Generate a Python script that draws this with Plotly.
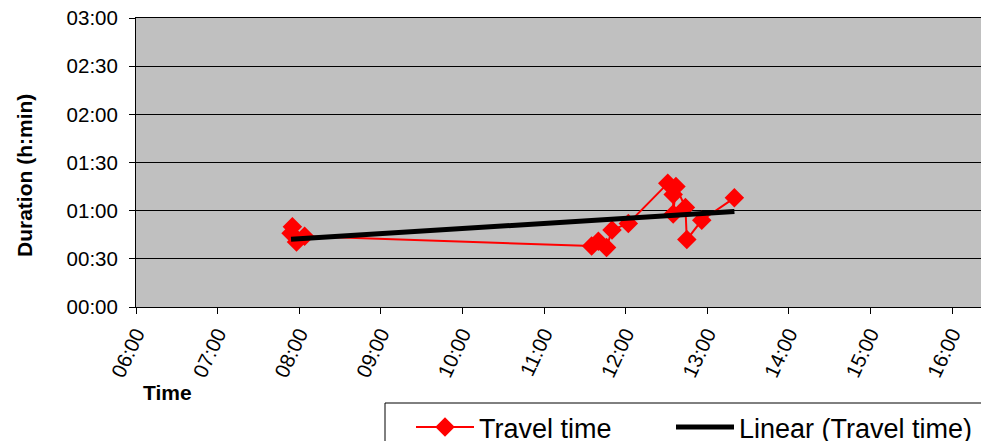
import numpy as np
import plotly.graph_objects as go

# departure times (HH:MM) and travel durations (minutes)
times = ["07:54", "07:55", "07:58", "08:04", "11:35", "11:40", "11:46", "11:50", "12:02",
         "12:31", "12:35", "12:35", "12:37", "12:44", "12:45", "12:56", "13:20"]
durations = [46, 50, 40.5, 44, 38, 41, 37, 48, 52, 77, 70, 58, 75, 62, 42, 54, 68]

x_ticks = ["06:00", "07:00", "08:00", "09:00", "10:00", "11:00", "12:00", "13:00", "14:00", "15:00", "16:00"]
y_ticks = ["00:00", "00:30", "01:00", "01:30", "02:00", "02:30", "03:00"]

def to_hours(s):
    h, m = s.split(":")
    return int(h) + int(m) / 60.0

xh = np.array([to_hours(t) for t in times])
yv = np.array(durations, dtype=float)

slope, intercept = np.polyfit(xh, yv, 1)
tx = np.array([xh.min(), xh.max()])
ty = slope * tx + intercept

fig = go.Figure()
fig.add_trace(go.Scatter(
    x=xh, y=yv, mode="lines+markers", name="Travel time",
    line=dict(color="#FF0000", width=2),
    marker=dict(symbol="diamond", size=15, color="#FF0000"),
    legend="legend",
))
fig.add_trace(go.Scatter(
    x=tx, y=ty, mode="lines", name="Linear (Travel time)",
    line=dict(color="#000000", width=5),
    legend="legend2",
))

# page body has an 8px margin; figure occupies window from (8, 8)
OFF = 8
W, H = 989 - OFF, 441 - OFF
L, R, T, B = 136 - OFF, 0, 18 - OFF, 441 - 307
pw, ph = W - L - R, H - T - B
px_per_hour = 81.6
xmax = 6 + pw / px_per_hour

def py(ypix):  # window pixel y -> paper y
    return (307 - ypix) / ph

def px(xpix):  # window pixel x -> paper x
    return (xpix - 136) / pw

leg_common = dict(
    orientation="h", xanchor="left", y=py(403), yanchor="top",
    bgcolor="rgba(0,0,0,0)", borderwidth=0,
    font=dict(size=27), itemwidth=58,
)

fig.update_layout(
    width=W, height=H,
    margin=dict(l=L, r=R, t=T, b=B, autoexpand=False),
    paper_bgcolor="white", plot_bgcolor="#C0C0C0",
    font=dict(family="Liberation Sans, Arial, sans-serif", color="black"),
    showlegend=True,
    legend=dict(x=px(411), **leg_common),
    legend2=dict(x=px(671), **leg_common),
    shapes=[
        dict(type="rect", xref="paper", yref="paper",
             x0=px(385), x1=px(1000), y0=py(403), y1=py(460),
             line=dict(color="black", width=1), fillcolor="white", layer="above"),
    ],
    xaxis=dict(
        range=[6, xmax], tickmode="array",
        tickvals=[to_hours(t) for t in x_ticks], ticktext=x_ticks,
        tickangle=-65, tickfont=dict(size=20.5),
        showgrid=False, zeroline=False,
        showline=True, linecolor="black", linewidth=1, mirror=True,
        ticks="outside", ticklen=6, tickcolor="black",
        ticklabeloverflow="allow",
    ),
    yaxis=dict(
        range=[0, 180], tickmode="array",
        tickvals=[0, 30, 60, 90, 120, 150, 180], ticktext=y_ticks,
        tickfont=dict(size=20.5), ticklabelstandoff=7,
        showgrid=True, gridcolor="#000000", gridwidth=1, zeroline=False,
        showline=True, linecolor="black", linewidth=1,
        ticks="outside", ticklen=6, tickcolor="black",
        ticklabeloverflow="allow",
    ),
    annotations=[
        dict(text="<b>Duration (h:min)</b>", xref="paper", yref="paper",
             x=px(25), y=py(176), textangle=-90,
             showarrow=False, font=dict(size=21), xanchor="center", yanchor="middle"),
        dict(text="<b>Time</b>", xref="paper", yref="paper",
             x=px(167), y=py(392),
             showarrow=False, font=dict(size=21), xanchor="center", yanchor="middle"),
    ],
)

fig.write_html(
    "out.html",
    post_script="document.documentElement.style.overflow='hidden';"
                "document.body.style.overflow='hidden';",
)
